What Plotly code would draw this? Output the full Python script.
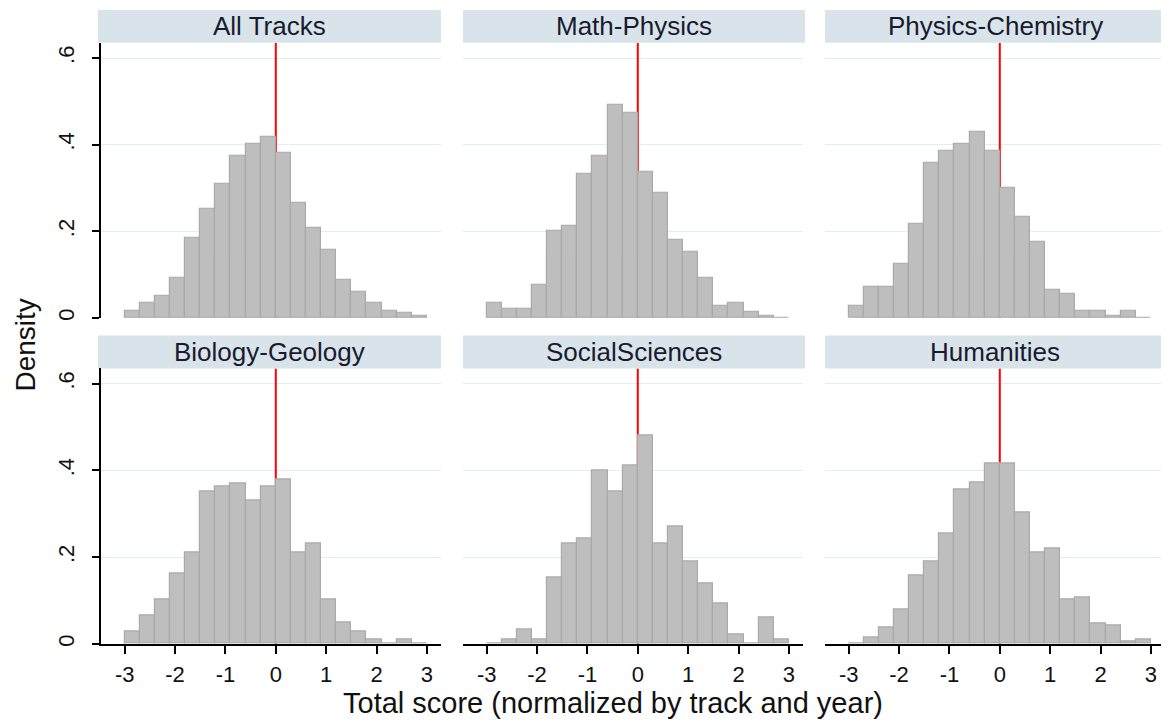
import plotly.graph_objects as go

# ---------------- data ----------------
bin_centers = [-2.85, -2.55, -2.25, -1.95, -1.65, -1.35, -1.05, -0.75, -0.45, -0.15,
               0.15, 0.45, 0.75, 1.05, 1.35, 1.65, 1.95, 2.25, 2.55, 2.85]
bin_width = 0.3

panel_titles = ["All Tracks", "Math-Physics", "Physics-Chemistry",
                "Biology-Geology", "SocialSciences", "Humanities"]

all_tracks = [0.017, 0.034, 0.050, 0.093, 0.185, 0.251, 0.310, 0.375, 0.402, 0.418,
              0.380, 0.266, 0.207, 0.158, 0.087, 0.061, 0.034, 0.017, 0.012, 0.006]
math_physics = [0.035, 0.020, 0.020, 0.077, 0.202, 0.212, 0.333, 0.375, 0.493, 0.473,
                0.337, 0.288, 0.180, 0.152, 0.093, 0.028, 0.034, 0.014, 0.006, 0.0]
physics_chemistry = [0.029, 0.071, 0.071, 0.126, 0.217, 0.359, 0.385, 0.402, 0.429, 0.386,
                     0.300, 0.234, 0.175, 0.066, 0.055, 0.016, 0.016, 0.006, 0.017, 0.0]
biology_geology = [0.028, 0.065, 0.102, 0.162, 0.211, 0.352, 0.362, 0.369, 0.330, 0.363,
                   0.379, 0.211, 0.232, 0.102, 0.049, 0.028, 0.011, 0.0, 0.011, 0.0]
social_sciences = [0.0, 0.010, 0.033, 0.011, 0.152, 0.232, 0.244, 0.400, 0.352, 0.412,
                   0.481, 0.232, 0.271, 0.189, 0.140, 0.092, 0.021, 0.0, 0.060, 0.011]
humanities = [0.0, 0.015, 0.038, 0.080, 0.157, 0.189, 0.254, 0.357, 0.373, 0.417,
              0.417, 0.303, 0.211, 0.221, 0.102, 0.108, 0.048, 0.043, 0.005, 0.011]

panel_values = [all_tracks, math_physics, physics_chemistry,
                biology_geology, social_sciences, humanities]

cutoff = 0.0
y_ticks = [0, 0.2, 0.4, 0.6]
y_tick_text = ["0", ".2", ".4", ".6"]
x_ticks = [-3, -2, -1, 0, 1, 2, 3]
x_tick_text = ["-3", "-2", "-1", "0", "1", "2", "3"]

x_title = "Total score (normalized by track and year)"
y_title = "Density"

# ---------------- layout geometry ----------------
PAGE_MARGIN = 8            # default <body> margin of the html page
W, H = 1169 - PAGE_MARGIN, 724 - PAGE_MARGIN
FONT = "Liberation Sans, Arial, sans-serif"


def px_x(p):
    return (p - PAGE_MARGIN) / W


def px_y(p):
    return 1 - (p - PAGE_MARGIN) / H


col_px = [(101, 441), (463, 803), (825, 1165)]
strip_px = [(98, 441), (463, 805), (825, 1165)]
row_plot_px = [(43, 319.3), (370, 646.5)]
row_strip_px = [(10, 43), (337, 370)]
x_range = [-3.47, 3.28]
y_range = [0, 0.635]

BAR_FILL = "#bebebe"
BAR_LINE = "#a9a9a9"
GRID = "#e3eef0"
STRIP = "#d8e4ea"

fig = go.Figure()
shapes = []
annotations = []

for i, (title, vals) in enumerate(zip(panel_titles, panel_values)):
    r, c = divmod(i, 3)
    ax = "" if i == 0 else str(i + 1)
    xname, yname = "x" + ax, "y" + ax

    fig.add_trace(go.Bar(
        x=bin_centers, y=vals, width=bin_width,
        marker=dict(color=BAR_FILL, line=dict(color=BAR_LINE, width=1.2)),
        xaxis=xname, yaxis=yname, showlegend=False, hoverinfo="x+y"))

    # red cutoff line (behind the bars)
    shapes.append(dict(type="line", xref=xname, yref=yname,
                       x0=cutoff, x1=cutoff, y0=0, y1=y_range[1],
                       line=dict(color="#ff0000", width=2), layer="between"))

    x0, x1 = col_px[c]
    top, bot = row_plot_px[r]
    xdom = [px_x(x0), px_x(x1)]
    ydom = [px_y(bot), px_y(top)]

    xaxis = dict(domain=xdom, range=x_range, anchor=yname,
                 showgrid=False, zeroline=False, tickvals=x_ticks, ticktext=x_tick_text,
                 fixedrange=True)
    if r == 1:
        xaxis.update(showline=True, linecolor="black", linewidth=2,
                     ticks="outside", ticklen=8, tickwidth=2, tickcolor="black",
                     showticklabels=True, ticklabelstandoff=2,
                     tickfont=dict(family=FONT, size=22, color="#111"))
    else:
        xaxis.update(showline=False, ticks="", showticklabels=False)

    yaxis = dict(domain=ydom, range=y_range, anchor=xname,
                 showgrid=True, gridcolor=GRID, gridwidth=1.2, zeroline=False,
                 tickvals=y_ticks, ticktext=y_tick_text, fixedrange=True)
    if c == 0:
        yaxis.update(showline=True, linecolor="black", linewidth=2,
                     ticks="outside", ticklen=7, tickwidth=2, tickcolor="black",
                     showticklabels=True, tickangle=-90, ticklabelstandoff=9,
                     tickfont=dict(family=FONT, size=22, color="#111"))
    else:
        yaxis.update(showline=False, ticks="", showticklabels=False)

    fig.layout["xaxis" + ax] = xaxis
    fig.layout["yaxis" + ax] = yaxis

    # strip header
    sx0, sx1 = strip_px[c]
    st, sb = row_strip_px[r]
    shapes.append(dict(type="rect", xref="paper", yref="paper",
                       x0=px_x(sx0), x1=px_x(sx1), y0=px_y(sb), y1=px_y(st),
                       fillcolor=STRIP, line=dict(width=0), layer="below"))
    annotations.append(dict(text=title, xref="paper", yref="paper",
                            x=px_x((sx0 + sx1) / 2), y=px_y((st + sb) / 2),
                            xanchor="center", yanchor="middle", showarrow=False,
                            font=dict(family=FONT, size=26, color="#1a1a2e")))

annotations.append(dict(text=x_title, xref="paper", yref="paper",
                        x=px_x(613), y=px_y(706), xanchor="center", yanchor="middle",
                        showarrow=False, font=dict(family=FONT, size=29, color="#111")))
annotations.append(dict(text=y_title, xref="paper", yref="paper",
                        x=px_x(26), y=px_y(347), xanchor="center", yanchor="middle",
                        textangle=-90, showarrow=False,
                        font=dict(family=FONT, size=28, color="#111")))

fig.update_layout(width=W, height=H, margin=dict(l=0, r=0, t=0, b=0),
                  paper_bgcolor="white", plot_bgcolor="white",
                  bargap=0, shapes=shapes, annotations=annotations,
                  font=dict(family=FONT))

fig.write_html("out.html")
